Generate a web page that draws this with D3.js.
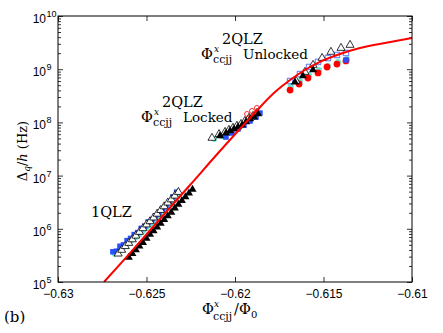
<!DOCTYPE html>
<meta charset="utf-8">
<style>
body { margin: 0; background: #fff; }
.axis path { display: none; }
.axis line { stroke: #000; stroke-width: 0.8; }
.theory { fill: none; stroke: #ff0000; stroke-width: 2; }
</style>
<body></body>
<script src="https://d3js.org/d3.v7.min.js"></script>
<script>
// tick values and labels
var xTicks = [-0.63, -0.625, -0.62, -0.615, -0.61];
var xTickLabels = ["\u22120.63", "\u22120.625", "\u22120.62", "\u22120.615", "\u22120.61"];
var yExponents = [5, 6, 7, 8, 9, 10];

// theory curve (red line)
var theoryFlux  = [-0.6274, -0.62593, -0.62424, -0.62254, -0.62085, -0.61915, -0.61774, -0.61689, -0.61605, -0.6152, -0.61407, -0.61294, -0.61153, -0.61];
var theoryDelta = [1.0e5, 3.5e5, 1.53e6, 6.65e6, 2.9e7, 1.21e8, 3.73e8, 6.27e8, 9.66e8, 1.37e9, 1.93e9, 2.5e9, 3.11e9, 3.86e9];

// measured series, [flux, delta]
var cyanDots = [
  [-0.6268,3.4e5],[-0.6266,3.8e5],[-0.6264,4.2e5],[-0.6262,4.7e5],[-0.626,5.4e5],[-0.6258,6.2e5],[-0.6256,6.9e5],
  [-0.6254,7.9e5],[-0.6252,9.1e5],[-0.625,1.05e6],[-0.6248,1.2e6],[-0.6246,1.38e6],[-0.6244,1.55e6],[-0.6242,1.78e6],
  [-0.624,2.09e6],[-0.6238,2.45e6],[-0.6236,2.88e6],[-0.6234,3.63e6],[-0.6232,4.47e6],
  [-0.62119,4.9e7],[-0.62073,5.5e7],[-0.62028,6.6e7],[-0.61972,8.2e7],[-0.61915,1.11e8],
  [-0.61684,4.8e8],[-0.61633,6.0e8],[-0.61582,7.8e8],[-0.61525,9.7e8],[-0.61475,1.15e9],[-0.61418,1.37e9],[-0.61367,1.56e9]
];
var whiteTriangles = [
  [-0.6266,3.4e5],[-0.6264,4.0e5],[-0.6262,4.7e5],[-0.626,5.4e5],[-0.6258,6.3e5],[-0.6256,7.4e5],[-0.6254,8.7e5],
  [-0.6252,1.02e6],[-0.625,1.2e6],[-0.6248,1.38e6],[-0.6246,1.62e6],[-0.6244,1.91e6],[-0.6242,2.24e6],[-0.624,2.63e6],
  [-0.6238,3.09e6],[-0.6236,3.55e6],[-0.6234,4.17e6],[-0.6232,4.9e6],
  [-0.6213,5.1e7],[-0.6209,6.0e7],[-0.62056,6.6e7],[-0.62034,7.2e7],[-0.62011,7.9e7],[-0.61989,8.6e7],[-0.61966,9.3e7],
  [-0.61944,1.06e8],[-0.61921,1.21e8],[-0.61898,1.32e8],[-0.61876,1.5e8],
  [-0.61655,6.0e8],[-0.61605,8.85e8],[-0.61559,1.2e9],[-0.61508,1.62e9],[-0.61458,2.11e9],[-0.61401,2.5e9],[-0.6135,2.85e9]
];
var blackTriangles = [
  [-0.626,2.9e5],[-0.6258,3.4e5],[-0.6256,4.0e5],[-0.6254,4.7e5],[-0.6252,5.5e5],[-0.625,6.6e5],[-0.6248,7.8e5],
  [-0.6246,9.1e5],[-0.6244,1.07e6],[-0.6242,1.26e6],[-0.624,1.48e6],[-0.6238,1.74e6],[-0.6236,2.04e6],[-0.6234,2.45e6],
  [-0.6232,2.88e6],[-0.623,3.39e6],[-0.6228,3.98e6],[-0.6226,4.68e6],[-0.6224,5.5e6],
  [-0.62085,5.55e7],[-0.62051,6.3e7],[-0.62028,6.9e7],[-0.62006,7.5e7],[-0.61983,8.2e7],[-0.6196,8.9e7],
  [-0.61938,1.02e8],[-0.61915,1.16e8],[-0.61893,1.26e8],[-0.6187,1.44e8],
  [-0.61661,5.7e8],[-0.61616,7.45e8],[-0.61559,9.7e8]
];
var blueSquares = [
  [-0.6269,3.7e5],[-0.6267,3.8e5],[-0.6265,4.7e5],[-0.6263,5.0e5],[-0.6261,6.0e5],[-0.6259,6.6e5],[-0.6257,7.8e5],
  [-0.6255,8.5e5],[-0.6253,1.02e6],[-0.6251,1.12e6],[-0.6249,1.35e6],[-0.6247,1.48e6],[-0.6245,1.74e6],[-0.6243,1.9e6],
  [-0.6241,2.35e6],[-0.6239,2.6e6],[-0.6237,3.25e6],[-0.6235,4.0e6],[-0.6233,4.9e6],
  [-0.62051,5.3e7],[-0.62017,6.3e7],[-0.61983,7.5e7],[-0.61949,8.9e7],[-0.61915,1.06e8],[-0.61881,1.26e8],[-0.61859,1.5e8],
  [-0.61373,1.49e9]
];
var blueOpenSquares = [
  [-0.61689,6.0e8],[-0.61633,8.1e8],[-0.61582,1.1e9],[-0.61531,1.37e9],[-0.61475,1.62e9],[-0.61424,1.85e9],[-0.61373,2.02e9]
];
var redCircles = [
  [-0.61689,4.06e8],[-0.61638,5.27e8],[-0.61588,6.83e8],[-0.61531,8.5e8],[-0.6148,1.1e9],[-0.61424,1.25e9],[-0.61373,1.43e9]
];
var redOpenCircles = [
  [-0.61932,1.44e8],[-0.61904,1.64e8],[-0.61876,1.87e8]
];

var SERIF = "DejaVu Serif";
var SANS = "Liberation Sans";

var width = 443, height = 333;
var plot = {left: 58, right: 412, top: 16, bottom: 282};

var svg = d3.select("body").append("svg")
    .attr("width", width)
    .attr("height", height);

var x = d3.scaleLinear().domain([-0.63, -0.61]).range([plot.left, plot.right]);
var y = d3.scaleLog().domain([1e5, 1e10]).range([plot.bottom, plot.top]);

var majorY = yExponents.map(function(e) { return Math.pow(10, e); });
var minorY = [];
yExponents.slice(0, -1).forEach(function(e) {
  for (var m = 2; m < 10; m++) minorY.push(m * Math.pow(10, e));
});

// clip for data
svg.append("clipPath").attr("id", "clip")
  .append("rect")
    .attr("x", plot.left).attr("y", plot.top)
    .attr("width", plot.right - plot.left).attr("height", plot.bottom - plot.top);

// axes, ticks pointing inward
var xAxisG = svg.append("g").attr("class", "axis")
    .attr("transform", "translate(0," + plot.bottom + ")")
    .call(d3.axisBottom(x).tickValues(xTicks).tickSizeInner(-5).tickSizeOuter(0).tickPadding(7)
      .tickFormat(function(d, i) { return xTickLabels[i]; }));
xAxisG.attr("font-family", SANS).attr("font-size", 12);
xAxisG.selectAll("text").attr("fill", "#000");

svg.append("g").attr("class", "axis")
    .attr("transform", "translate(0," + plot.top + ")")
    .call(d3.axisTop(x).tickValues(xTicks).tickSizeInner(-5).tickSizeOuter(0).tickFormat(""));

[[plot.left, d3.axisLeft], [plot.right, d3.axisRight]].forEach(function(p) {
  svg.append("g").attr("class", "axis")
      .attr("transform", "translate(" + p[0] + ",0)")
      .call(p[1](y).tickValues(majorY).tickSizeInner(-5).tickSizeOuter(0).tickFormat(""));
  svg.append("g").attr("class", "axis")
      .attr("transform", "translate(" + p[0] + ",0)")
      .call(p[1](y).tickValues(minorY).tickSizeInner(-3).tickSizeOuter(0).tickFormat(""));
});

// y tick labels 10^n
yExponents.forEach(function(e) {
  svg.append("text")
      .attr("x", 46).attr("y", y(Math.pow(10, e)) + 7)
      .attr("text-anchor", "end")
      .attr("font-family", SANS).attr("font-size", 12)
      .text("10");
  svg.append("text")
      .attr("x", 46.5).attr("y", y(Math.pow(10, e)) + 1)
      .attr("font-family", SANS).attr("font-size", 9)
      .text(e);
});

// data layer
var g = svg.append("g").attr("clip-path", "url(#clip)");

g.selectAll(".cyan").data(cyanDots).enter().append("circle")
    .attr("cx", function(d) { return x(d[0]); })
    .attr("cy", function(d) { return y(d[1]); })
    .attr("r", 3)
    .attr("fill", "#6ee8d2");

g.selectAll(".redc").data(redCircles).enter().append("circle")
    .attr("cx", function(d) { return x(d[0]); })
    .attr("cy", function(d) { return y(d[1]); })
    .attr("r", 3.4)
    .attr("fill", "#ff0000");

var tri = d3.symbol().type(d3.symbolTriangle).size(28);
var sq = d3.symbol().type(d3.symbolSquare).size(30);

g.selectAll(".bsq").data(blueSquares).enter().append("path")
    .attr("d", sq)
    .attr("transform", function(d) { return "translate(" + x(d[0]) + "," + y(d[1]) + ")"; })
    .attr("fill", "#2850ff");

g.selectAll(".bos").data(blueOpenSquares).enter().append("path")
    .attr("d", sq)
    .attr("transform", function(d) { return "translate(" + x(d[0]) + "," + y(d[1]) + ")"; })
    .attr("fill", "none")
    .attr("stroke", "#2850ff")
    .attr("stroke-width", 0.8);

g.selectAll(".wtri").data(whiteTriangles).enter().append("path")
    .attr("d", tri)
    .attr("transform", function(d) { return "translate(" + x(d[0]) + "," + y(d[1]) + ")"; })
    .attr("fill", "#fff")
    .attr("stroke", "#000")
    .attr("stroke-width", 0.8);

g.selectAll(".btri").data(blackTriangles).enter().append("path")
    .attr("d", tri)
    .attr("transform", function(d) { return "translate(" + x(d[0]) + "," + y(d[1]) + ")"; })
    .attr("fill", "#000");

g.selectAll(".redo").data(redOpenCircles).enter().append("circle")
    .attr("cx", function(d) { return x(d[0]); })
    .attr("cy", function(d) { return y(d[1]); })
    .attr("r", 2.5)
    .attr("fill", "none")
    .attr("stroke", "#ff0000")
    .attr("stroke-width", 0.8);

// theory line on top
var line = d3.line()
    .x(function(d, i) { return x(theoryFlux[i]); })
    .y(function(d) { return y(d); })
    .curve(d3.curveMonotoneX);

g.append("path")
    .datum(theoryDelta)
    .attr("class", "theory")
    .attr("d", line);

// frame
svg.append("rect")
    .attr("x", plot.left).attr("y", plot.top)
    .attr("width", plot.right - plot.left).attr("height", plot.bottom - plot.top)
    .attr("fill", "none").attr("stroke", "#000").attr("stroke-width", 1);

// annotations (serif, TeX-like)
function serifText(xp, yp, size, txt, italic) {
  return svg.append("text").attr("x", xp).attr("y", yp)
      .attr("font-family", SERIF)
      .attr("font-size", size)
      .attr("font-style", italic ? "italic" : "normal")
      .attr("fill", "#000")
      .text(txt);
}

serifText(91, 217, 14.5, "1QLZ");

function fluxLabel(x0, base, word) {
  serifText(x0 + 21, base, 14.5, "2QLZ");
  serifText(x0, base + 15, 14.5, "\u03A6");
  serifText(x0 + 13, base + 8, 9, "x", true);
  serifText(x0 + 12, base + 19, 11, "ccjj");
  serifText(x0 + 42, base + 15, 13.5, word);
}
fluxLabel(141, 107, "Locked");
fluxLabel(201, 44, "Unlocked");

// x axis label
serifText(202, 314, 14.5, "\u03A6");
serifText(214, 307, 9, "x", true);
serifText(213, 320, 11, "ccjj");
serifText(234, 314, 14.5, "/\u03A6");
serifText(251, 318, 10, "0");

// y axis label
var yl = svg.append("text")
    .attr("transform", "translate(27,151) rotate(-90)")
    .attr("text-anchor", "middle")
    .attr("font-family", SERIF)
    .attr("font-size", 13);
yl.append("tspan").text("\u0394");
yl.append("tspan").attr("dy", 3).attr("font-size", 9).attr("font-style", "italic").text("q");
yl.append("tspan").attr("dy", -3).text("/");
yl.append("tspan").attr("font-style", "italic").text("h");
yl.append("tspan").text(" (Hz)");

// panel letter
serifText(4, 322, 15, "(b)");
</script>
